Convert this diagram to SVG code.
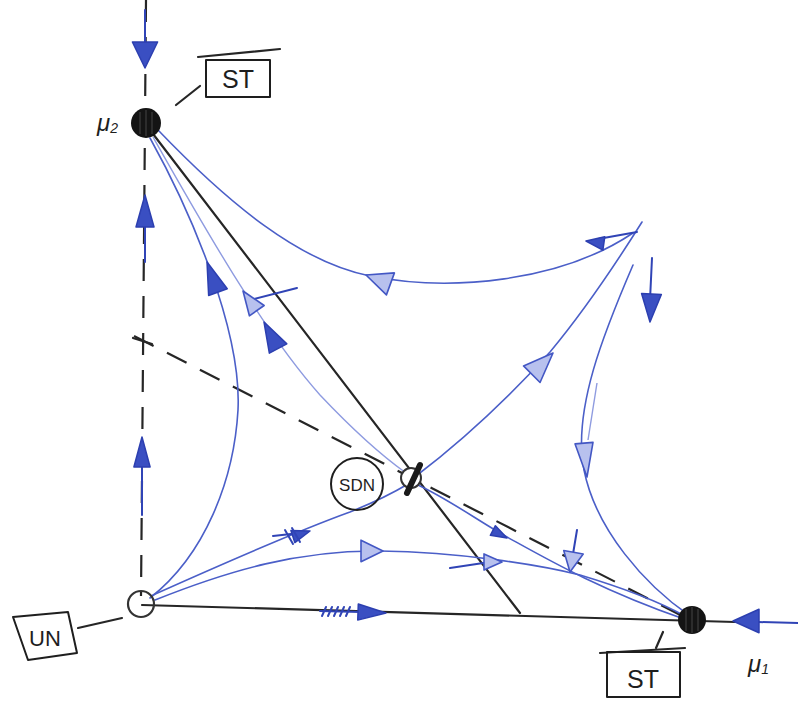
<svg xmlns="http://www.w3.org/2000/svg" width="798" height="713" viewBox="0 0 798 713">
<defs>
<style>
.ink{stroke:#262626;stroke-width:2.2;fill:none;stroke-linecap:round}
.dash{stroke:#262626;stroke-width:2.2;fill:none;stroke-dasharray:22 15}
.traj{stroke:#4b5fc8;stroke-width:1.6;fill:none;stroke-linecap:round}
.light{stroke:#8e9be0;stroke-width:1.4;fill:none}
.shaft{stroke:#3044b6;stroke-width:2;fill:none;stroke-linecap:round}
.head{fill:#3a4fc2;stroke:#2c3fb0;stroke-width:1.5;stroke-linejoin:round}
.headl{fill:#b8c1ee;stroke:#4357c4;stroke-width:1.6;stroke-linejoin:round}
.box{stroke:#1e1e1e;stroke-width:2;fill:none;stroke-linejoin:round}
.lbl{font-family:"Liberation Sans",Arial,sans-serif;fill:#1e1e1e}
</style>
<path id="tri" d="M0,0 L-1,-0.45 L-1,0.45 Z" vector-effect="non-scaling-stroke"/>
</defs>
<rect width="798" height="713" fill="#ffffff"/>

<g id="connectors">
<line class="dash" x1="146" y1="0" x2="141" y2="596"/>
<line class="ink" x1="142" y1="605" x2="735" y2="622"/>
<line class="ink" x1="150" y1="130" x2="520" y2="613"/>
<line class="dash" x1="134" y1="336" x2="690" y2="620"/>
<line class="ink" x1="133" y1="338" x2="152" y2="344"/>

<path class="traj" d="M158,130 C230,205 300,262 370,276 C450,292 560,282 633,233"/>
<path class="traj" d="M416,476 C470,435 520,385 550,352 C585,310 615,265 642,222"/>
<path class="traj" d="M633,265 C605,330 572,410 584,470 C596,530 645,585 690,616"/>
<path class="light" d="M597,383 L588,440"/>
<path class="traj" d="M150,138 C190,210 242,330 238,410 C234,480 205,555 150,598"/>
<path class="light" d="M153,137 C200,220 262,330 320,395 C355,432 385,458 406,473"/>
<path class="traj" d="M153,595 C220,565 300,530 350,512 C380,500 398,490 408,484"/>
<path class="traj" d="M155,600 C230,570 300,550 380,551 C460,552 540,565 580,575 C630,590 665,605 685,616"/>
<path class="traj" d="M418,485 C450,500 480,522 507,537 C545,558 600,590 684,619"/>

<line class="shaft" x1="145" y1="10" x2="145" y2="66"/>
<use href="#tri" class="head" transform="translate(145,68) rotate(90) scale(26,28)"/>
<line class="shaft" x1="145" y1="200" x2="145" y2="262" stroke-width="3"/>
<use href="#tri" class="head" transform="translate(145,195) rotate(-90) scale(32,20)"/>
<line class="shaft" x1="142" y1="440" x2="142" y2="515" stroke-width="3"/>
<use href="#tri" class="head" transform="translate(142,437) rotate(-90) scale(30,18)"/>
<line class="shaft" x1="320" y1="611" x2="362" y2="612" stroke-width="3"/>
<path class="shaft" d="M326,607 l-4,9 M332,607 l-4,9 M338,607 l-4,9 M344,607 l-4,9 M350,607 l-4,9" stroke-width="1.5"/>
<use href="#tri" class="head" transform="translate(386,613) rotate(2) scale(28,18)"/>
<line class="shaft" x1="758" y1="622" x2="798" y2="623" stroke-width="3"/>
<use href="#tri" class="head" transform="translate(733,621) rotate(180) scale(26,26)"/>
<use href="#tri" class="headl" transform="translate(366,275) rotate(200) scale(26,26)"/>
<line class="shaft" x1="598" y1="239" x2="637" y2="232"/>
<use href="#tri" class="head" transform="translate(586,241) rotate(188) scale(18,15)"/>
<use href="#tri" class="headl" transform="translate(553,353) rotate(-45) scale(30,26)"/>
<line class="shaft" x1="652" y1="258" x2="650" y2="300"/>
<use href="#tri" class="head" transform="translate(650,322) rotate(93) scale(28,22)"/>
<use href="#tri" class="headl" transform="translate(587,477) rotate(85) scale(34,20)"/>
<use href="#tri" class="head" transform="translate(207,262) rotate(-110) scale(32,22)"/>
<line class="shaft" x1="250" y1="300" x2="297" y2="288" stroke="#6475cf" stroke-width="1.5"/>
<use href="#tri" class="headl" transform="translate(243,291) rotate(-125) scale(24,20)"/>
<use href="#tri" class="head" transform="translate(264,322) rotate(-118) scale(30,22)"/>
<line class="shaft" x1="273" y1="536" x2="300" y2="533"/>
<use href="#tri" class="head" transform="translate(310,531) rotate(-18) scale(18,14)"/>
<path class="shaft" d="M285,530 l8,14 M292,528 l8,14" stroke-width="1.5"/>
<use href="#tri" class="headl" transform="translate(383,551) rotate(0) scale(22,24)"/>
<use href="#tri" class="head" transform="translate(507,538) rotate(28) scale(16,12)"/>
<line class="shaft" x1="450" y1="568" x2="490" y2="562"/>
<use href="#tri" class="headl" transform="translate(502,562) rotate(0) scale(18,18)"/>
<line class="shaft" x1="577" y1="530" x2="571" y2="566" stroke="#7a89d8" stroke-width="1.4"/>
<use href="#tri" class="headl" transform="translate(570,572) rotate(100) scale(20,22)"/>
</g>

<g id="node-mu2-st">
<circle cx="146" cy="123" r="15" fill="#141414"/>
<path d="M140,112 v22 M146,110 v26 M152,112 v22" stroke="#444" stroke-width="1"/>
<line class="ink" x1="176" y1="105" x2="200" y2="86"/>
<rect class="box" x="206" y="60" width="64" height="37"/>
<line class="ink" x1="198" y1="57" x2="280" y2="49"/>
<text class="lbl" x="238" y="88" font-size="25" text-anchor="middle">ST</text>
<text class="lbl" x="97" y="131" font-size="24" font-style="italic">μ<tspan font-size="14" dy="2">2</tspan></text>
</g>

<g id="node-un">
<circle cx="141" cy="604" r="13" fill="none" stroke="#333" stroke-width="2.2"/>
<line class="ink" x1="78" y1="628" x2="122" y2="618"/>
<path class="box" d="M13,617 L68,612 L77,653 L28,660 Z"/>
<text class="lbl" x="45" y="646" font-size="22" text-anchor="middle">UN</text>
</g>

<g id="node-st">
<circle cx="692" cy="620" r="14" fill="#141414"/>
<path d="M686,609 v22 M692,607 v26 M698,609 v22" stroke="#444" stroke-width="1"/>
<line class="ink" x1="656" y1="648" x2="663" y2="632"/>
<line class="ink" x1="600" y1="653" x2="685" y2="648"/>
<rect class="box" x="607" y="652" width="73" height="45"/>
<text class="lbl" x="643" y="688" font-size="25" text-anchor="middle">ST</text>
<text class="lbl" x="748" y="672" font-size="24" font-style="italic">μ<tspan font-size="14" dy="2">1</tspan></text>
</g>

<g id="node-sdn">
<circle cx="411" cy="478" r="10" fill="#fff" stroke="#333" stroke-width="2"/>
<line x1="407" y1="493" x2="420" y2="465" stroke="#1a1a1a" stroke-width="6" stroke-linecap="round"/>
<circle cx="357" cy="484" r="26" fill="none" stroke="#1e1e1e" stroke-width="2"/>
<text class="lbl" x="357" y="491" font-size="17" text-anchor="middle">SDN</text>
</g>
</svg>
